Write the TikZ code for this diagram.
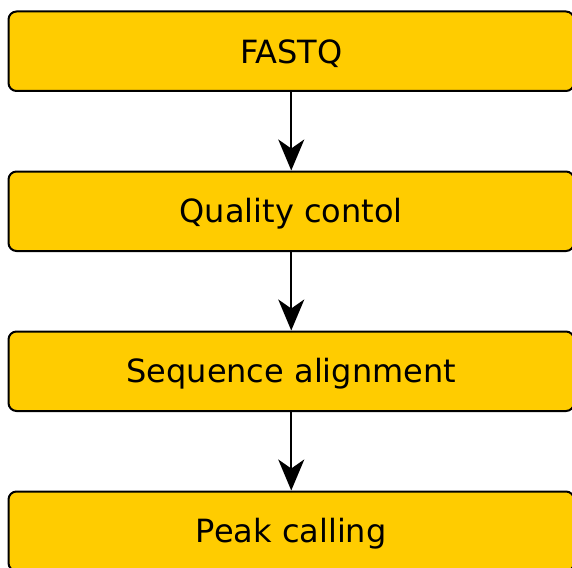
\documentclass[tikz,border=0pt]{standalone}
\usepackage{fontspec}
\setmainfont{DejaVu Sans}
\usetikzlibrary{arrows.meta}
\definecolor{boxfill}{HTML}{FFCC00}
\tikzset{
  stepbox/.style={draw=black, fill=boxfill, line width=2pt, rounded corners=8pt,
    minimum width=565.5pt, minimum height=79.5pt, inner sep=0pt,
    font=\fontsize{32}{38}\selectfont},
  lbl/.style={inner sep=0pt, font=\fontsize{32}{38}\selectfont},
  flow/.style={line width=2pt, -{Stealth[length=31pt,width=26pt,inset=9pt]}}
}
\begin{document}
\begin{tikzpicture}[x=1pt,y=-1pt]
\useasboundingbox (0,0) rectangle (572,567);
\node[stepbox] (a) at (291.25,51.25) {};
\node[stepbox] (b) at (291.25,211.25) {};
\node[stepbox] (c) at (291.25,371.25) {};
\node[stepbox] (d) at (291.25,531.25) {};
\node[lbl] (ta) at ([yshift=-2pt]a.center) {FASTQ};
\node[lbl] (tb) at ([yshift=-2pt]b.center) {Quality contol};
\node[lbl] (tc) at ([yshift=-2pt]c.center) {Sequence alignment};
\node[lbl] (td) at ([yshift=-2pt]d.center) {Peak calling};
\draw[flow] (a.south) -- (b.north);
\draw[flow] (b.south) -- (c.north);
\draw[flow] (c.south) -- (d.north);
\end{tikzpicture}
\end{document}
